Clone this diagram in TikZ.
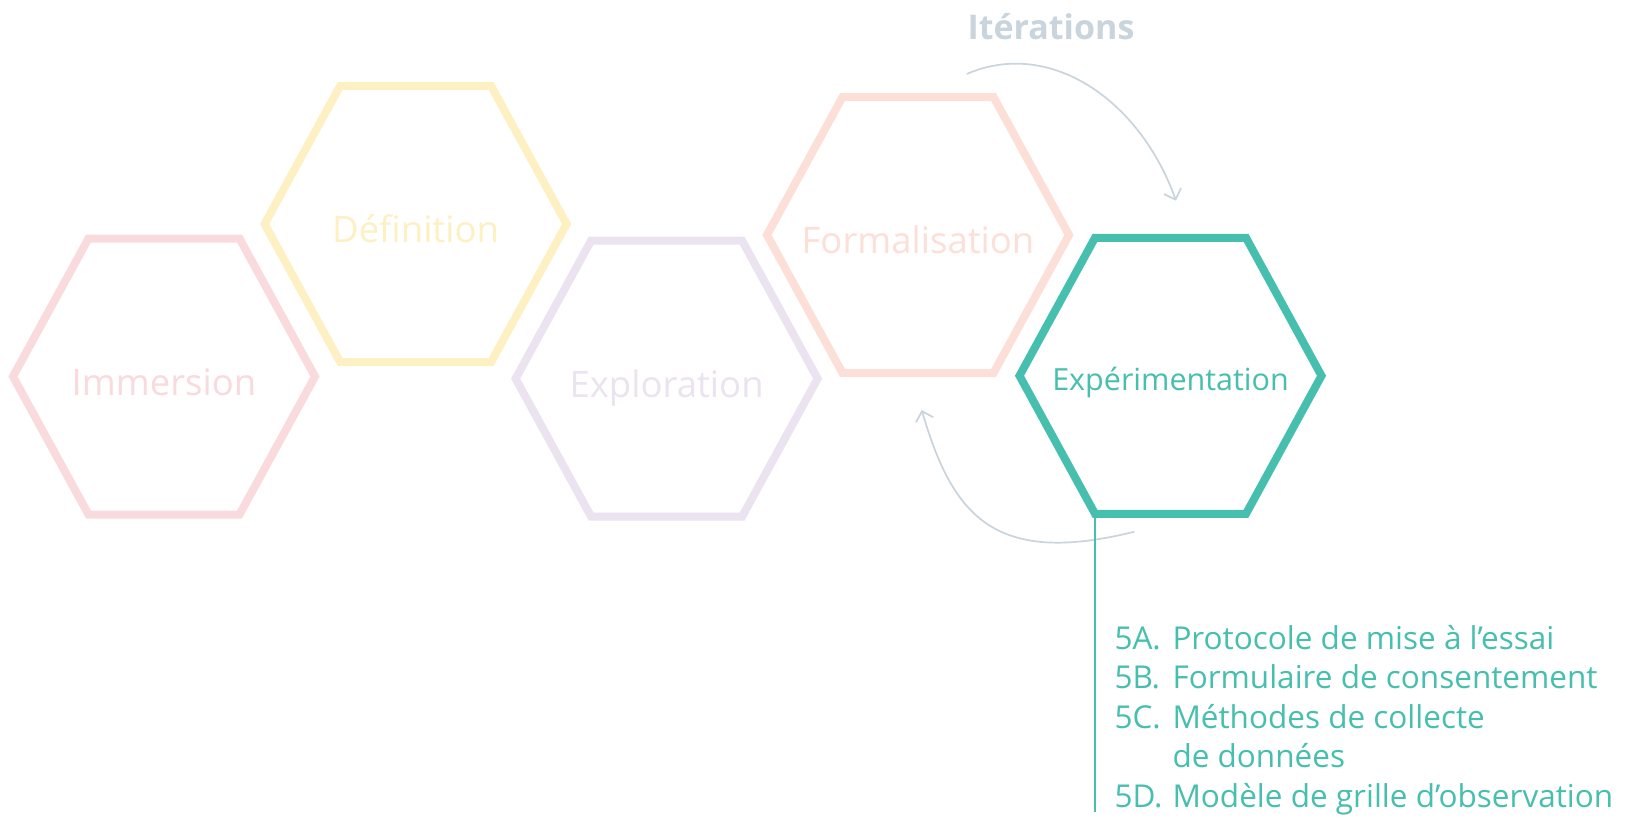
\documentclass[tikz,border=0pt]{standalone}
\usepackage{fontspec}
\setmainfont{Open Sans}
\usetikzlibrary{arrows.meta}

\definecolor{immpink}{HTML}{F9DADD}
\definecolor{defyellow}{HTML}{FDF0C3}
\definecolor{explav}{HTML}{EBE3F0}
\definecolor{formpeach}{HTML}{FCE0D7}
\definecolor{expteal}{HTML}{47BFAE}
\definecolor{itergray}{HTML}{C9D4DC}

\tikzset{
  pics/hexa/.style={code={
    \draw[line width=8pt, line join=miter, pic actions]
      (-151,0) -- (-75.5,-138) -- (75.5,-138) -- (151,0)
      -- (75.5,138) -- (-75.5,138) -- cycle;
    \coordinate (-bl) at (-75.5,138);
  }},
  hexlabel/.style={anchor=base, inner sep=0pt, font=\fontsize{36.5}{40}\selectfont},
  steplabel/.style={anchor=base, inner sep=0pt, font=\fontsize{30.5}{36}\selectfont},
  listitem/.style={anchor=base west, inner sep=0pt, text=expteal,
    font=\fontsize{31.5}{39.5}\selectfont},
  iterarrow/.style={draw=itergray, line width=1.7pt,
    -{Straight Barb[length=9pt, width=18pt, line width=1.7pt]}},
}
\newcommand\itemtag[1]{\makebox[58pt][l]{#1}}

\begin{document}
\begin{tikzpicture}[x=1pt, y=-1pt]
  \useasboundingbox (0,0) rectangle (1633,817);
  \fill[white] (0,0) rectangle (1633,817);

  % the five phases
  \pic[draw=immpink]   (imm)  at (164,376.5) {hexa};
  \pic[draw=defyellow] (def)  at (415.6,224) {hexa};
  \pic[draw=explav]    (expl) at (666.6,378.6) {hexa};
  \pic[draw=formpeach] (form) at (918,235) {hexa};
  \pic[draw=expteal]   (expe) at (1170.5,375.75) {hexa};

  \node[hexlabel, text=immpink]   (immlabel)  at (164,395)   {Immersion};
  \node[hexlabel, text=defyellow] (deflabel)  at (415.6,242.5) {Définition};
  \node[hexlabel, text=explav]    (expllabel) at (666.6,397) {Exploration};
  \node[hexlabel, text=formpeach] (formlabel) at (918,253.5) {Formalisation};
  \node[steplabel, text=expteal]  (expelabel) at (1170.5,390) {Expérimentation};

  % iteration loop
  \node[anchor=base, inner sep=0pt, text=itergray,
        font=\fontsize{34}{40}\selectfont\bfseries] (iter) at (1051,39) {Itérations};
  \coordinate (loopAstart) at (966.7,74);
  \coordinate (loopAend)   at (1176,200.7);
  \coordinate (loopBstart) at (1134.3,531.7);
  \coordinate (loopBend)   at (921.7,410);
  \draw[iterarrow] (loopAstart) .. controls (1050,38) and (1140,100) .. (loopAend);
  \draw[iterarrow] (loopBstart) .. controls (994,566.7) and (952.5,515.6) .. (loopBend);

  % deliverables of the experimentation phase
  \coordinate (stemend) at (1093.5,812);
  \draw[expteal, line width=2pt] (expe-bl) -- (expe-bl |- stemend);

  \node[listitem] (item5a) at (1114.3,649)   {\itemtag{5A.}Protocole de mise à l’essai};
  \node[listitem] (item5b) at (1114.3,688.5) {\itemtag{5B.}Formulaire de consentement};
  \node[listitem] (item5c) at (1114.3,728)   {\itemtag{5C.}Méthodes de collecte};
  \node[listitem] (item5c2) at (1114.3,767.5) {\itemtag{}de données};
  \node[listitem] (item5d) at (1114.3,807)   {\itemtag{5D.}Modèle de grille d’observation};
\end{tikzpicture}
\end{document}
